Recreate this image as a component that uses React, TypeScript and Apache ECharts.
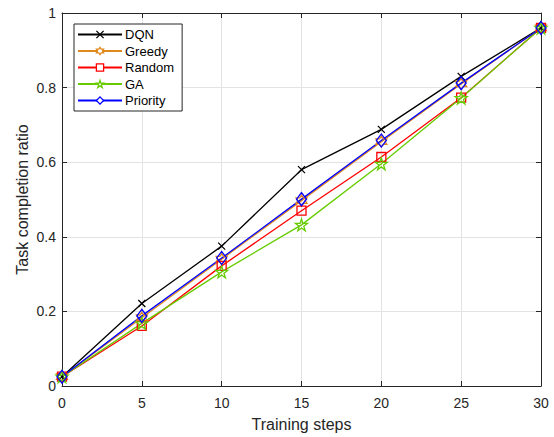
import React, { useEffect, useRef } from "react";
import * as echarts from "echarts";

const steps = [0, 5, 10, 15, 20, 25, 30];
const dqn = [0.025, 0.221, 0.375, 0.58, 0.688, 0.83, 0.96];
const greedy = [0.025, 0.183, 0.34, 0.497, 0.655, 0.81, 0.96];
const randomS = [0.025, 0.161, 0.322, 0.47, 0.614, 0.773, 0.96];
const ga = [0.025, 0.168, 0.306, 0.432, 0.596, 0.772, 0.96];
const priority = [0.025, 0.188, 0.343, 0.501, 0.658, 0.812, 0.96];

function starPath(n: number, inner: number): string {
  const pts: string[] = [];
  for (let i = 0; i < 2 * n; i++) {
    const r = i % 2 === 0 ? 1 : inner;
    const a = -Math.PI / 2 + (i * Math.PI) / n;
    pts.push(`${(10 + 10 * r * Math.cos(a)).toFixed(3)},${(10 + 10 * r * Math.sin(a)).toFixed(3)}`);
  }
  return "path://M" + pts.join("L") + "Z";
}

const FONT = "'Liberation Sans', Arial, Helvetica, sans-serif";
const TXT = "#262626";

const names = ["DQN", "Greedy", "Random", "GA", "Priority"];
const colors = ["#000000", "#e0891f", "#ff0000", "#66cc00", "#0000ff"];

export default function App() {
  const ref = useRef<HTMLDivElement>(null);
  useEffect(() => {
    if (!ref.current) return;
    const chart = echarts.init(ref.current, undefined, { renderer: "svg" });
    const mk = (
      name: string,
      data: number[],
      color: string,
      symbol: string,
      size: number | number[]
    ) => ({
      name,
      type: "line",
      data: steps.map((s, i) => [s, data[i]]),
      xAxisIndex: 0,
      yAxisIndex: 0,
      symbol,
      symbolSize: size,
      showAllSymbol: true,
      lineStyle: { color, width: 1.3 },
      itemStyle: { color: "none", borderColor: color, borderWidth: 1.3 },
      emphasis: { disabled: true },
      z: 3,
    });
    const gridLine = { show: true, lineStyle: { color: "#e3e3e3", width: 1 } };
    chart.setOption({
      animation: false,
      backgroundColor: "#ffffff",
      textStyle: { fontFamily: FONT },
      grid: { left: 62, top: 13, right: 13, bottom: 48, containLabel: false },
      legend: {
        left: 74,
        top: 24,
        orient: "vertical",
        width: 100,
        padding: [4, 8, 4, 3],
        itemGap: 3.5,
        itemWidth: 44,
        itemHeight: 9,
        backgroundColor: "#ffffff",
        borderColor: TXT,
        borderWidth: 1,
        borderRadius: 0,
        textStyle: { fontSize: 13, color: "#000", fontFamily: FONT, padding: [0, 0, 0, -2] },
        data: names.map((n, i) => ({
          name: n,
          itemStyle: { color: "#ffffff", borderColor: colors[i], borderWidth: 1.3 },
        })),
      },
      xAxis: [
        {
          type: "value",
          min: 0,
          max: 30,
          interval: 5,
          name: "Training steps",
          nameLocation: "middle",
          nameGap: 30,
          nameMoveOverlap: false,
          nameTextStyle: { fontSize: 16, color: TXT, fontFamily: FONT },
          axisLine: { show: true, onZero: false, lineStyle: { color: TXT, width: 1 } },
          axisTick: { show: true, inside: true, length: 5, lineStyle: { color: TXT } },
          axisLabel: { fontSize: 14, color: TXT, margin: 10, fontFamily: FONT },
          splitLine: gridLine,
        },
        {
          type: "value",
          position: "top",
          min: 0,
          max: 30,
          interval: 5,
          axisLine: { show: true, onZero: false, lineStyle: { color: TXT, width: 1 } },
          axisTick: { show: true, inside: true, length: 5, lineStyle: { color: TXT } },
          axisLabel: { show: false },
          splitLine: { show: false },
        },
      ],
      yAxis: [
        {
          type: "value",
          min: 0,
          max: 1,
          interval: 0.2,
          name: "Task completion ratio",
          nameLocation: "middle",
          nameGap: 32,
          nameMoveOverlap: false,
          nameTextStyle: { fontSize: 16, color: TXT, fontFamily: FONT },
          axisLine: { show: true, onZero: false, lineStyle: { color: TXT, width: 1 } },
          axisTick: { show: true, inside: true, length: 5, lineStyle: { color: TXT } },
          axisLabel: { fontSize: 14, color: TXT, margin: 6, fontFamily: FONT },
          splitLine: gridLine,
        },
        {
          type: "value",
          position: "right",
          min: 0,
          max: 1,
          interval: 0.2,
          axisLine: { show: true, onZero: false, lineStyle: { color: TXT, width: 1 } },
          axisTick: { show: true, inside: true, length: 5, lineStyle: { color: TXT } },
          axisLabel: { show: false },
          splitLine: { show: false },
        },
      ],
      series: [
        mk(names[0], dqn, colors[0], "path://M0,0L10,10M10,0L0,10", 7),
        mk(names[1], greedy, colors[1], starPath(6, 0.577), 11),
        mk(names[2], randomS, colors[2], "rect", 9),
        mk(names[3], ga, colors[3], starPath(5, 0.382), 12),
        mk(names[4], priority, colors[4], "diamond", [10, 13]),
      ],
    });
    return () => chart.dispose();
  }, []);
  return <div ref={ref} style={{ width: 554, height: 437, position: "absolute", left: 0, top: 0 }} />;
}
